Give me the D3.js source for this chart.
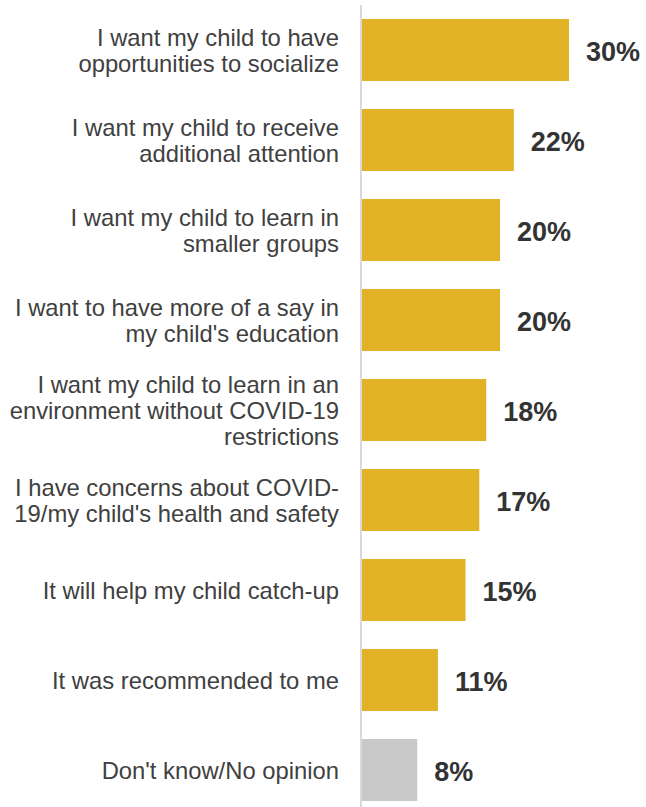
<!DOCTYPE html>
<html>
<head>
<meta charset="utf-8">
<script src="https://cdn.jsdelivr.net/npm/d3@7"></script>
<style>
  html, body { margin: 0; padding: 0; background: #fff; }
  svg { display: block; }
</style>
</head>
<body>
<svg id="chart" width="646" height="807"></svg>
<script>
// Reasons given, each split into its displayed lines
const categories = [
  ["I want my child to have", "opportunities to socialize"],
  ["I want my child to receive", "additional attention"],
  ["I want my child to learn in", "smaller groups"],
  ["I want to have more of a say in", "my child's education"],
  ["I want my child to learn in an", "environment without COVID-19", "restrictions"],
  ["I have concerns about COVID-", "19/my child's health and safety"],
  ["It will help my child catch-up"],
  ["It was recommended to me"],
  ["Don't know/No opinion"]
];
const values = [30, 22, 20, 20, 18, 17, 15, 11, 8];
const valueLabels = ["30%", "22%", "20%", "20%", "18%", "17%", "15%", "11%", "8%"];

const svg = d3.select("#chart");
const x0 = 362;
const keys = categories.map((c, i) => i);

const x = d3.scaleLinear().domain([0, 30]).range([x0, 569]);
const y = d3.scaleBand().domain(keys).range([5, 815])
  .paddingInner(0.311).paddingOuter(0.1555);

// bars
svg.append("g").selectAll("rect")
  .data(keys)
  .join("rect")
  .attr("x", x(0))
  .attr("y", i => y(i))
  .attr("width", i => x(values[i]) - x(0))
  .attr("height", y.bandwidth())
  .attr("fill", i => i === keys.length - 1 ? "#c9c9c9" : "#e1b226");

// vertical baseline
svg.append("line")
  .attr("x1", 361).attr("x2", 361)
  .attr("y1", 5).attr("y2", 807)
  .attr("stroke", "#d9d9d9").attr("stroke-width", 2);

// category labels (right-aligned, multi-line, centred on the bar)
const fs = 23.8, lineH = 26, capHalf = fs * 0.716 / 2;
const catG = svg.append("g")
  .attr("font-family", "Liberation Sans, Arial, sans-serif")
  .attr("font-size", fs)
  .attr("fill", "#404040")
  .attr("text-anchor", "end");
keys.forEach(i => {
  const lines = categories[i];
  const cy = y(i) + y.bandwidth() / 2;
  const t = catG.append("text");
  lines.forEach((ln, k) => {
    t.append("tspan")
      .attr("x", 339)
      .attr("y", cy + (k - (lines.length - 1) / 2) * lineH + capHalf)
      .text(ln);
  });
});

// value labels
svg.append("g").selectAll("text")
  .data(keys)
  .join("text")
  .attr("x", i => x(values[i]) + 17)
  .attr("y", i => y(i) + y.bandwidth() / 2 + 10.5)
  .attr("font-family", "Liberation Sans, Arial, sans-serif")
  .attr("font-weight", "bold")
  .attr("font-size", 27)
  .attr("fill", "#333333")
  .text(i => valueLabels[i]);
</script>
</body>
</html>
